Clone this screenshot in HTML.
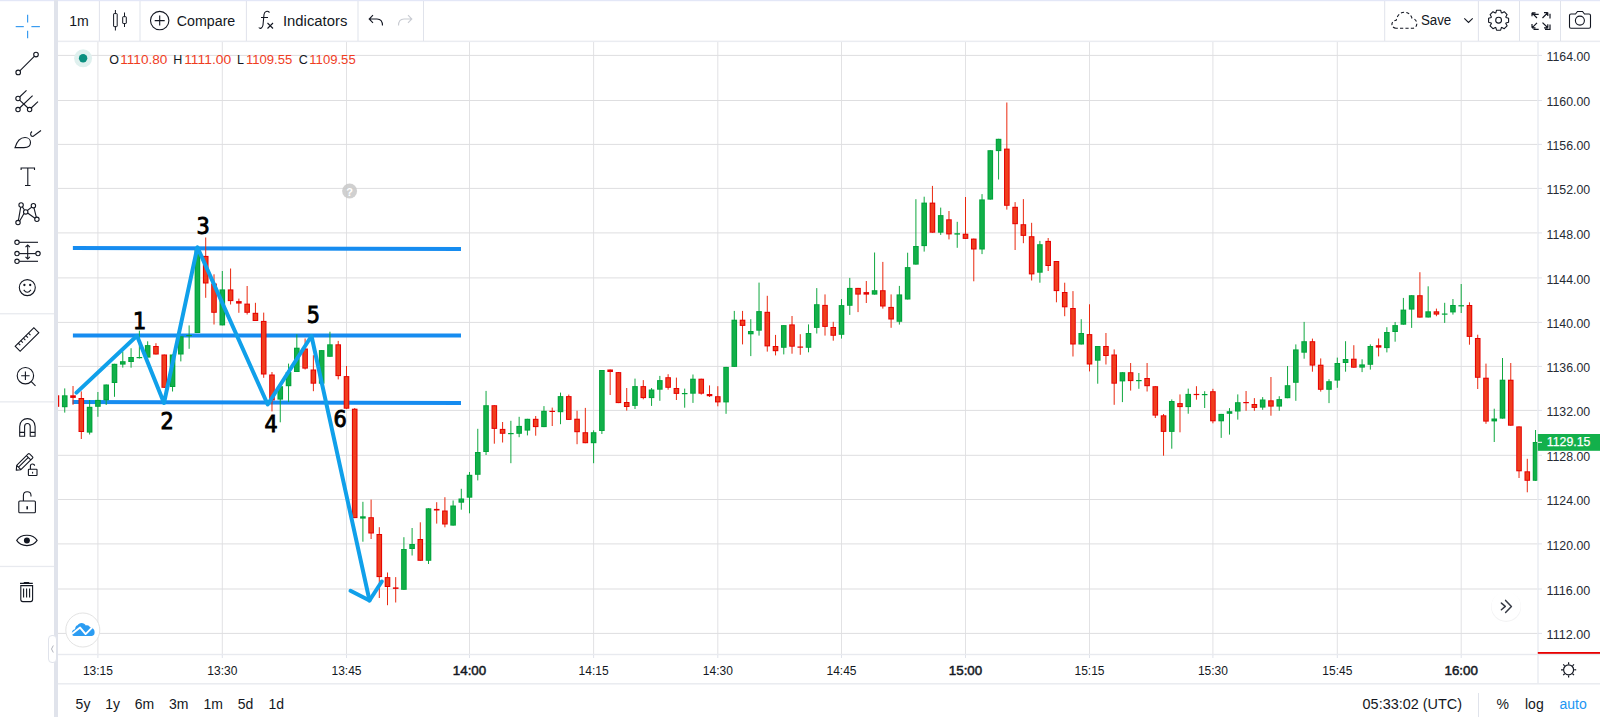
<!DOCTYPE html><html><head><meta charset="utf-8"><title>Chart</title><style>html,body{margin:0;padding:0;background:#fff;overflow:hidden}svg{display:block}text{font-family:"Liberation Sans", Arial, sans-serif}</style></head><body>
<svg width="1600" height="717" viewBox="0 0 1600 717">
<rect x="0" y="0" width="1600" height="717" fill="#fff"/>
<defs><clipPath id="cc"><rect x="58" y="42" width="1479.5" height="612"/></clipPath></defs>
<g clip-path="url(#cc)">
<rect x="97.40" y="42" width="1" height="612" fill="#e2e2e4"/>
<rect x="221.80" y="42" width="1" height="612" fill="#e2e2e4"/>
<rect x="346.00" y="42" width="1" height="612" fill="#e2e2e4"/>
<rect x="469.00" y="42" width="1" height="612" fill="#e2e2e4"/>
<rect x="593.10" y="42" width="1" height="612" fill="#e2e2e4"/>
<rect x="717.30" y="42" width="1" height="612" fill="#e2e2e4"/>
<rect x="841.00" y="42" width="1" height="612" fill="#e2e2e4"/>
<rect x="965.00" y="42" width="1" height="612" fill="#e2e2e4"/>
<rect x="1089.00" y="42" width="1" height="612" fill="#e2e2e4"/>
<rect x="1212.40" y="42" width="1" height="612" fill="#e2e2e4"/>
<rect x="1336.80" y="42" width="1" height="612" fill="#e2e2e4"/>
<rect x="1460.70" y="42" width="1" height="612" fill="#e2e2e4"/>
<rect x="58" y="54.90" width="1480" height="1" fill="#dedee0"/>
<rect x="58" y="100.00" width="1480" height="1" fill="#dedee0"/>
<rect x="58" y="143.90" width="1480" height="1" fill="#dedee0"/>
<rect x="58" y="187.90" width="1480" height="1" fill="#dedee0"/>
<rect x="58" y="232.40" width="1480" height="1" fill="#dedee0"/>
<rect x="58" y="277.40" width="1480" height="1" fill="#dedee0"/>
<rect x="58" y="321.90" width="1480" height="1" fill="#dedee0"/>
<rect x="58" y="365.90" width="1480" height="1" fill="#dedee0"/>
<rect x="58" y="409.90" width="1480" height="1" fill="#dedee0"/>
<rect x="58" y="454.80" width="1480" height="1" fill="#dedee0"/>
<rect x="58" y="499.00" width="1480" height="1" fill="#dedee0"/>
<rect x="58" y="543.40" width="1480" height="1" fill="#dedee0"/>
<rect x="58" y="588.50" width="1480" height="1" fill="#dedee0"/>
<rect x="58" y="632.90" width="1480" height="1" fill="#dedee0"/>
</g>
<line x1="72.9" y1="248" x2="461" y2="248.9" stroke="#168cf0" stroke-width="4"/>
<line x1="72.9" y1="335.4" x2="461" y2="335.4" stroke="#168cf0" stroke-width="4"/>
<line x1="72.5" y1="401.9" x2="461" y2="403" stroke="#168cf0" stroke-width="4"/>
<g clip-path="url(#cc)">
<rect x="55.93" y="393.0" width="1" height="16.0" fill="#ea2a10"/>
<rect x="53.63" y="395.3" width="5.6" height="11.5" fill="#e60000"/>
<rect x="54.63" y="396.3" width="3.6" height="9.5" fill="#ef3e1e"/>
<rect x="64.23" y="388.4" width="1" height="24.2" fill="#10a840"/>
<rect x="61.93" y="395.3" width="5.6" height="11.9" fill="#00a33a"/>
<rect x="62.93" y="396.3" width="3.6" height="9.9" fill="#12b04a"/>
<rect x="72.52" y="386.0" width="1" height="18.8" fill="#ea2a10"/>
<rect x="70.22" y="395.3" width="5.6" height="2.6" fill="#e60000"/>
<rect x="80.81" y="391.4" width="1" height="47.6" fill="#ea2a10"/>
<rect x="78.51" y="398.0" width="5.6" height="34.0" fill="#e60000"/>
<rect x="79.51" y="399.0" width="3.6" height="32.0" fill="#ef3e1e"/>
<rect x="89.11" y="400.0" width="1" height="34.5" fill="#10a840"/>
<rect x="86.81" y="406.8" width="5.6" height="25.8" fill="#00a33a"/>
<rect x="87.81" y="407.8" width="3.6" height="23.8" fill="#12b04a"/>
<rect x="97.40" y="392.0" width="1" height="24.8" fill="#10a840"/>
<rect x="95.10" y="399.9" width="5.6" height="6.9" fill="#00a33a"/>
<rect x="96.10" y="400.9" width="3.6" height="4.9" fill="#12b04a"/>
<rect x="105.69" y="384.5" width="1" height="20.5" fill="#10a840"/>
<rect x="103.39" y="384.5" width="5.6" height="15.8" fill="#00a33a"/>
<rect x="104.39" y="385.5" width="3.6" height="13.8" fill="#12b04a"/>
<rect x="113.99" y="363.8" width="1" height="33.0" fill="#10a840"/>
<rect x="111.69" y="363.8" width="5.6" height="19.2" fill="#00a33a"/>
<rect x="112.69" y="364.8" width="3.6" height="17.2" fill="#12b04a"/>
<rect x="122.28" y="351.5" width="1" height="16.1" fill="#10a840"/>
<rect x="119.98" y="361.2" width="5.6" height="3.4" fill="#00a33a"/>
<rect x="120.98" y="362.2" width="3.6" height="1.4" fill="#12b04a"/>
<rect x="130.57" y="348.2" width="1" height="19.5" fill="#10a840"/>
<rect x="128.27" y="357.0" width="5.6" height="5.0" fill="#00a33a"/>
<rect x="129.27" y="358.0" width="3.6" height="3.0" fill="#12b04a"/>
<rect x="138.87" y="330.7" width="1" height="27.8" fill="#10a840"/>
<rect x="136.57" y="357.0" width="5.6" height="1.2" fill="#00a33a"/>
<rect x="147.16" y="341.3" width="1" height="16.3" fill="#10a840"/>
<rect x="144.86" y="345.1" width="5.6" height="12.5" fill="#00a33a"/>
<rect x="145.86" y="346.1" width="3.6" height="10.5" fill="#12b04a"/>
<rect x="155.45" y="343.2" width="1" height="11.3" fill="#ea2a10"/>
<rect x="153.15" y="346.0" width="5.6" height="8.5" fill="#e60000"/>
<rect x="154.15" y="347.0" width="3.6" height="6.5" fill="#ef3e1e"/>
<rect x="163.75" y="354.5" width="1" height="33.5" fill="#ea2a10"/>
<rect x="161.45" y="354.5" width="5.6" height="33.3" fill="#e60000"/>
<rect x="162.45" y="355.5" width="3.6" height="31.3" fill="#ef3e1e"/>
<rect x="172.04" y="354.5" width="1" height="37.0" fill="#10a840"/>
<rect x="169.74" y="354.5" width="5.6" height="32.5" fill="#00a33a"/>
<rect x="170.74" y="355.5" width="3.6" height="30.5" fill="#12b04a"/>
<rect x="180.33" y="336.3" width="1" height="25.1" fill="#10a840"/>
<rect x="178.03" y="336.3" width="5.6" height="18.2" fill="#00a33a"/>
<rect x="179.03" y="337.3" width="3.6" height="16.2" fill="#12b04a"/>
<rect x="188.63" y="325.4" width="1" height="23.4" fill="#10a840"/>
<rect x="186.33" y="335.0" width="5.6" height="1.2" fill="#00a33a"/>
<rect x="196.92" y="250.0" width="1" height="83.0" fill="#10a840"/>
<rect x="194.62" y="250.0" width="5.6" height="83.0" fill="#00a33a"/>
<rect x="195.62" y="251.0" width="3.6" height="81.0" fill="#12b04a"/>
<rect x="205.21" y="237.5" width="1" height="60.3" fill="#ea2a10"/>
<rect x="202.91" y="255.9" width="5.6" height="27.6" fill="#e60000"/>
<rect x="203.91" y="256.9" width="3.6" height="25.6" fill="#ef3e1e"/>
<rect x="213.51" y="274.3" width="1" height="50.2" fill="#ea2a10"/>
<rect x="211.21" y="283.5" width="5.6" height="29.3" fill="#e60000"/>
<rect x="212.21" y="284.5" width="3.6" height="27.3" fill="#ef3e1e"/>
<rect x="221.80" y="271.0" width="1" height="54.4" fill="#10a840"/>
<rect x="219.50" y="289.4" width="5.6" height="36.0" fill="#00a33a"/>
<rect x="220.50" y="290.4" width="3.6" height="34.0" fill="#12b04a"/>
<rect x="230.08" y="268.5" width="1" height="36.0" fill="#ea2a10"/>
<rect x="227.78" y="289.4" width="5.6" height="11.7" fill="#e60000"/>
<rect x="228.78" y="290.4" width="3.6" height="9.7" fill="#ef3e1e"/>
<rect x="238.36" y="298.6" width="1" height="14.2" fill="#ea2a10"/>
<rect x="236.06" y="301.1" width="5.6" height="2.5" fill="#e60000"/>
<rect x="246.64" y="286.0" width="1" height="28.5" fill="#ea2a10"/>
<rect x="244.34" y="303.6" width="5.6" height="9.2" fill="#e60000"/>
<rect x="245.34" y="304.6" width="3.6" height="7.2" fill="#ef3e1e"/>
<rect x="254.92" y="302.8" width="1" height="18.2" fill="#ea2a10"/>
<rect x="252.62" y="312.8" width="5.6" height="8.2" fill="#e60000"/>
<rect x="253.62" y="313.8" width="3.6" height="6.2" fill="#ef3e1e"/>
<rect x="263.20" y="312.6" width="1" height="65.2" fill="#ea2a10"/>
<rect x="260.90" y="320.9" width="5.6" height="53.6" fill="#e60000"/>
<rect x="261.90" y="321.9" width="3.6" height="51.6" fill="#ef3e1e"/>
<rect x="271.48" y="372.0" width="1" height="39.4" fill="#ea2a10"/>
<rect x="269.18" y="374.5" width="5.6" height="25.9" fill="#e60000"/>
<rect x="270.18" y="375.5" width="3.6" height="23.9" fill="#ef3e1e"/>
<rect x="279.76" y="386.0" width="1" height="36.3" fill="#10a840"/>
<rect x="277.46" y="386.2" width="5.6" height="13.4" fill="#00a33a"/>
<rect x="278.46" y="387.2" width="3.6" height="11.4" fill="#12b04a"/>
<rect x="288.04" y="363.6" width="1" height="38.4" fill="#10a840"/>
<rect x="285.74" y="372.0" width="5.6" height="14.2" fill="#00a33a"/>
<rect x="286.74" y="373.0" width="3.6" height="12.2" fill="#12b04a"/>
<rect x="296.32" y="334.3" width="1" height="37.7" fill="#10a840"/>
<rect x="294.02" y="347.7" width="5.6" height="24.3" fill="#00a33a"/>
<rect x="295.02" y="348.7" width="3.6" height="22.3" fill="#12b04a"/>
<rect x="304.60" y="338.5" width="1" height="31.0" fill="#ea2a10"/>
<rect x="302.30" y="348.5" width="5.6" height="20.1" fill="#e60000"/>
<rect x="303.30" y="349.5" width="3.6" height="18.1" fill="#ef3e1e"/>
<rect x="312.88" y="355.2" width="1" height="36.0" fill="#ea2a10"/>
<rect x="310.58" y="369.5" width="5.6" height="14.2" fill="#e60000"/>
<rect x="311.58" y="370.5" width="3.6" height="12.2" fill="#ef3e1e"/>
<rect x="321.16" y="350.1" width="1" height="33.6" fill="#10a840"/>
<rect x="318.86" y="350.1" width="5.6" height="33.6" fill="#00a33a"/>
<rect x="319.86" y="351.1" width="3.6" height="31.6" fill="#12b04a"/>
<rect x="329.44" y="331.7" width="1" height="25.1" fill="#10a840"/>
<rect x="327.14" y="344.3" width="5.6" height="12.5" fill="#00a33a"/>
<rect x="328.14" y="345.3" width="3.6" height="10.5" fill="#12b04a"/>
<rect x="337.72" y="340.9" width="1" height="38.5" fill="#ea2a10"/>
<rect x="335.42" y="344.3" width="5.6" height="31.8" fill="#e60000"/>
<rect x="336.42" y="345.3" width="3.6" height="29.8" fill="#ef3e1e"/>
<rect x="346.00" y="366.0" width="1" height="42.7" fill="#ea2a10"/>
<rect x="343.70" y="376.1" width="5.6" height="32.6" fill="#e60000"/>
<rect x="344.70" y="377.1" width="3.6" height="30.6" fill="#ef3e1e"/>
<rect x="354.20" y="408.0" width="1" height="110.1" fill="#ea2a10"/>
<rect x="351.90" y="408.7" width="5.6" height="109.4" fill="#e60000"/>
<rect x="352.90" y="409.7" width="3.6" height="107.4" fill="#ef3e1e"/>
<rect x="362.40" y="501.8" width="1" height="39.9" fill="#10a840"/>
<rect x="360.10" y="516.3" width="5.6" height="2.3" fill="#00a33a"/>
<rect x="370.60" y="499.6" width="1" height="39.4" fill="#ea2a10"/>
<rect x="368.30" y="517.2" width="5.6" height="16.3" fill="#e60000"/>
<rect x="369.30" y="518.2" width="3.6" height="14.3" fill="#ef3e1e"/>
<rect x="378.80" y="527.2" width="1" height="70.8" fill="#ea2a10"/>
<rect x="376.50" y="534.0" width="5.6" height="43.1" fill="#e60000"/>
<rect x="377.50" y="535.0" width="3.6" height="41.1" fill="#ef3e1e"/>
<rect x="387.00" y="572.5" width="1" height="32.7" fill="#ea2a10"/>
<rect x="384.70" y="577.1" width="5.6" height="9.9" fill="#e60000"/>
<rect x="385.70" y="578.1" width="3.6" height="7.9" fill="#ef3e1e"/>
<rect x="395.20" y="577.1" width="1" height="25.4" fill="#ea2a10"/>
<rect x="392.90" y="587.4" width="5.6" height="1.5" fill="#e60000"/>
<rect x="403.40" y="537.2" width="1" height="52.6" fill="#10a840"/>
<rect x="401.10" y="549.0" width="5.6" height="40.8" fill="#00a33a"/>
<rect x="402.10" y="550.0" width="3.6" height="38.8" fill="#12b04a"/>
<rect x="411.60" y="528.0" width="1" height="27.5" fill="#10a840"/>
<rect x="409.30" y="544.0" width="5.6" height="5.0" fill="#00a33a"/>
<rect x="410.30" y="545.0" width="3.6" height="3.0" fill="#12b04a"/>
<rect x="419.80" y="522.3" width="1" height="38.5" fill="#ea2a10"/>
<rect x="417.50" y="539.0" width="5.6" height="21.8" fill="#e60000"/>
<rect x="418.50" y="540.0" width="3.6" height="19.8" fill="#ef3e1e"/>
<rect x="428.00" y="508.3" width="1" height="55.7" fill="#10a840"/>
<rect x="425.70" y="508.3" width="5.6" height="52.5" fill="#00a33a"/>
<rect x="426.70" y="509.3" width="3.6" height="50.5" fill="#12b04a"/>
<rect x="436.20" y="502.2" width="1" height="21.4" fill="#ea2a10"/>
<rect x="433.90" y="508.9" width="5.6" height="1.6" fill="#e60000"/>
<rect x="444.40" y="497.2" width="1" height="30.1" fill="#ea2a10"/>
<rect x="442.10" y="510.5" width="5.6" height="14.0" fill="#e60000"/>
<rect x="443.10" y="511.5" width="3.6" height="12.0" fill="#ef3e1e"/>
<rect x="452.60" y="500.5" width="1" height="25.1" fill="#10a840"/>
<rect x="450.30" y="505.5" width="5.6" height="20.1" fill="#00a33a"/>
<rect x="451.30" y="506.5" width="3.6" height="18.1" fill="#12b04a"/>
<rect x="460.80" y="488.8" width="1" height="20.9" fill="#10a840"/>
<rect x="458.50" y="498.5" width="5.6" height="4.2" fill="#00a33a"/>
<rect x="459.50" y="499.5" width="3.6" height="2.2" fill="#12b04a"/>
<rect x="469.00" y="472.0" width="1" height="41.3" fill="#10a840"/>
<rect x="466.70" y="474.8" width="5.6" height="22.9" fill="#00a33a"/>
<rect x="467.70" y="475.8" width="3.6" height="20.9" fill="#12b04a"/>
<rect x="477.27" y="428.8" width="1" height="51.6" fill="#10a840"/>
<rect x="474.97" y="452.0" width="5.6" height="22.8" fill="#00a33a"/>
<rect x="475.97" y="453.0" width="3.6" height="20.8" fill="#12b04a"/>
<rect x="485.55" y="390.9" width="1" height="64.1" fill="#10a840"/>
<rect x="483.25" y="405.2" width="5.6" height="46.8" fill="#00a33a"/>
<rect x="484.25" y="406.2" width="3.6" height="44.8" fill="#12b04a"/>
<rect x="493.82" y="405.2" width="1" height="38.5" fill="#ea2a10"/>
<rect x="491.52" y="405.2" width="5.6" height="23.7" fill="#e60000"/>
<rect x="492.52" y="406.2" width="3.6" height="21.7" fill="#ef3e1e"/>
<rect x="502.09" y="422.0" width="1" height="20.5" fill="#ea2a10"/>
<rect x="499.79" y="428.9" width="5.6" height="4.9" fill="#e60000"/>
<rect x="500.79" y="429.9" width="3.6" height="2.9" fill="#ef3e1e"/>
<rect x="510.37" y="420.8" width="1" height="42.4" fill="#10a840"/>
<rect x="508.07" y="433.0" width="5.6" height="1.2" fill="#00a33a"/>
<rect x="518.64" y="416.8" width="1" height="20.4" fill="#10a840"/>
<rect x="516.34" y="425.9" width="5.6" height="7.9" fill="#00a33a"/>
<rect x="517.34" y="426.9" width="3.6" height="5.9" fill="#12b04a"/>
<rect x="526.91" y="418.8" width="1" height="16.6" fill="#10a840"/>
<rect x="524.61" y="418.8" width="5.6" height="11.8" fill="#00a33a"/>
<rect x="525.61" y="419.8" width="3.6" height="9.8" fill="#12b04a"/>
<rect x="535.19" y="416.0" width="1" height="19.7" fill="#ea2a10"/>
<rect x="532.89" y="418.8" width="5.6" height="8.3" fill="#e60000"/>
<rect x="533.89" y="419.8" width="3.6" height="6.3" fill="#ef3e1e"/>
<rect x="543.46" y="406.1" width="1" height="21.0" fill="#10a840"/>
<rect x="541.16" y="410.8" width="5.6" height="16.3" fill="#00a33a"/>
<rect x="542.16" y="411.8" width="3.6" height="14.3" fill="#12b04a"/>
<rect x="551.73" y="407.6" width="1" height="18.4" fill="#ea2a10"/>
<rect x="549.43" y="410.8" width="5.6" height="1.2" fill="#e60000"/>
<rect x="560.01" y="392.6" width="1" height="31.6" fill="#10a840"/>
<rect x="557.71" y="396.1" width="5.6" height="16.1" fill="#00a33a"/>
<rect x="558.71" y="397.1" width="3.6" height="14.1" fill="#12b04a"/>
<rect x="568.28" y="394.6" width="1" height="25.3" fill="#ea2a10"/>
<rect x="565.98" y="396.1" width="5.6" height="23.8" fill="#e60000"/>
<rect x="566.98" y="397.1" width="3.6" height="21.8" fill="#ef3e1e"/>
<rect x="576.55" y="410.7" width="1" height="33.5" fill="#ea2a10"/>
<rect x="574.25" y="418.7" width="5.6" height="13.5" fill="#e60000"/>
<rect x="575.25" y="419.7" width="3.6" height="11.5" fill="#ef3e1e"/>
<rect x="584.83" y="407.9" width="1" height="35.3" fill="#ea2a10"/>
<rect x="582.53" y="432.2" width="5.6" height="11.0" fill="#e60000"/>
<rect x="583.53" y="433.2" width="3.6" height="9.0" fill="#ef3e1e"/>
<rect x="593.10" y="430.3" width="1" height="32.9" fill="#10a840"/>
<rect x="590.80" y="432.2" width="5.6" height="11.0" fill="#00a33a"/>
<rect x="591.80" y="433.2" width="3.6" height="9.0" fill="#12b04a"/>
<rect x="601.38" y="370.0" width="1" height="64.0" fill="#10a840"/>
<rect x="599.08" y="370.0" width="5.6" height="61.0" fill="#00a33a"/>
<rect x="600.08" y="371.0" width="3.6" height="59.0" fill="#12b04a"/>
<rect x="609.66" y="369.5" width="1" height="25.5" fill="#ea2a10"/>
<rect x="607.36" y="369.5" width="5.6" height="2.5" fill="#e60000"/>
<rect x="617.94" y="372.0" width="1" height="31.1" fill="#ea2a10"/>
<rect x="615.64" y="372.1" width="5.6" height="31.0" fill="#e60000"/>
<rect x="616.64" y="373.1" width="3.6" height="29.0" fill="#ef3e1e"/>
<rect x="626.22" y="388.0" width="1" height="22.6" fill="#ea2a10"/>
<rect x="623.92" y="402.0" width="5.6" height="5.0" fill="#e60000"/>
<rect x="624.92" y="403.0" width="3.6" height="3.0" fill="#ef3e1e"/>
<rect x="634.50" y="378.6" width="1" height="30.4" fill="#10a840"/>
<rect x="632.20" y="386.1" width="5.6" height="19.8" fill="#00a33a"/>
<rect x="633.20" y="387.1" width="3.6" height="17.8" fill="#12b04a"/>
<rect x="642.78" y="380.1" width="1" height="19.2" fill="#ea2a10"/>
<rect x="640.48" y="386.1" width="5.6" height="12.0" fill="#e60000"/>
<rect x="641.48" y="387.1" width="3.6" height="10.0" fill="#ef3e1e"/>
<rect x="651.06" y="388.0" width="1" height="17.9" fill="#10a840"/>
<rect x="648.76" y="389.5" width="5.6" height="8.6" fill="#00a33a"/>
<rect x="649.76" y="390.5" width="3.6" height="6.6" fill="#12b04a"/>
<rect x="659.34" y="375.9" width="1" height="24.9" fill="#10a840"/>
<rect x="657.04" y="380.1" width="5.6" height="9.6" fill="#00a33a"/>
<rect x="658.04" y="381.1" width="3.6" height="7.6" fill="#12b04a"/>
<rect x="667.62" y="374.2" width="1" height="15.5" fill="#ea2a10"/>
<rect x="665.32" y="377.2" width="5.6" height="10.6" fill="#e60000"/>
<rect x="666.32" y="378.2" width="3.6" height="8.6" fill="#ef3e1e"/>
<rect x="675.90" y="377.6" width="1" height="22.4" fill="#ea2a10"/>
<rect x="673.60" y="388.0" width="5.6" height="5.9" fill="#e60000"/>
<rect x="674.60" y="389.0" width="3.6" height="3.9" fill="#ef3e1e"/>
<rect x="684.18" y="388.6" width="1" height="19.1" fill="#10a840"/>
<rect x="681.88" y="393.0" width="5.6" height="1.2" fill="#00a33a"/>
<rect x="692.46" y="374.5" width="1" height="28.4" fill="#10a840"/>
<rect x="690.16" y="378.7" width="5.6" height="15.0" fill="#00a33a"/>
<rect x="691.16" y="379.7" width="3.6" height="13.0" fill="#12b04a"/>
<rect x="700.74" y="378.7" width="1" height="15.9" fill="#ea2a10"/>
<rect x="698.44" y="378.7" width="5.6" height="15.0" fill="#e60000"/>
<rect x="699.44" y="379.7" width="3.6" height="13.0" fill="#ef3e1e"/>
<rect x="709.02" y="385.4" width="1" height="11.6" fill="#ea2a10"/>
<rect x="706.72" y="394.0" width="5.6" height="2.2" fill="#e60000"/>
<rect x="717.30" y="386.2" width="1" height="20.1" fill="#ea2a10"/>
<rect x="715.00" y="396.2" width="5.6" height="6.2" fill="#e60000"/>
<rect x="716.00" y="397.2" width="3.6" height="4.2" fill="#ef3e1e"/>
<rect x="725.55" y="366.9" width="1" height="46.9" fill="#10a840"/>
<rect x="723.25" y="366.9" width="5.6" height="35.5" fill="#00a33a"/>
<rect x="724.25" y="367.9" width="3.6" height="33.5" fill="#12b04a"/>
<rect x="733.79" y="310.9" width="1" height="56.0" fill="#10a840"/>
<rect x="731.49" y="319.7" width="5.6" height="47.2" fill="#00a33a"/>
<rect x="732.49" y="320.7" width="3.6" height="45.2" fill="#12b04a"/>
<rect x="742.04" y="310.9" width="1" height="33.5" fill="#ea2a10"/>
<rect x="739.74" y="319.7" width="5.6" height="6.2" fill="#e60000"/>
<rect x="740.74" y="320.7" width="3.6" height="4.2" fill="#ef3e1e"/>
<rect x="750.29" y="319.2" width="1" height="36.9" fill="#10a840"/>
<rect x="747.99" y="331.0" width="5.6" height="3.3" fill="#00a33a"/>
<rect x="748.99" y="332.0" width="3.6" height="1.3" fill="#12b04a"/>
<rect x="758.53" y="282.6" width="1" height="53.0" fill="#10a840"/>
<rect x="756.23" y="311.1" width="5.6" height="19.6" fill="#00a33a"/>
<rect x="757.23" y="312.1" width="3.6" height="17.6" fill="#12b04a"/>
<rect x="766.78" y="295.8" width="1" height="55.8" fill="#ea2a10"/>
<rect x="764.48" y="311.8" width="5.6" height="34.6" fill="#e60000"/>
<rect x="765.48" y="312.8" width="3.6" height="32.6" fill="#ef3e1e"/>
<rect x="775.03" y="334.9" width="1" height="20.5" fill="#ea2a10"/>
<rect x="772.73" y="346.0" width="5.6" height="5.2" fill="#e60000"/>
<rect x="773.73" y="347.0" width="3.6" height="3.2" fill="#ef3e1e"/>
<rect x="783.27" y="325.1" width="1" height="29.3" fill="#10a840"/>
<rect x="780.97" y="325.1" width="5.6" height="22.7" fill="#00a33a"/>
<rect x="781.97" y="326.1" width="3.6" height="20.7" fill="#12b04a"/>
<rect x="791.52" y="316.0" width="1" height="37.7" fill="#ea2a10"/>
<rect x="789.22" y="324.4" width="5.6" height="22.3" fill="#e60000"/>
<rect x="790.22" y="325.4" width="3.6" height="20.3" fill="#ef3e1e"/>
<rect x="799.77" y="334.2" width="1" height="20.6" fill="#ea2a10"/>
<rect x="797.47" y="346.5" width="5.6" height="1.2" fill="#e60000"/>
<rect x="808.01" y="324.4" width="1" height="27.9" fill="#10a840"/>
<rect x="805.71" y="333.0" width="5.6" height="14.8" fill="#00a33a"/>
<rect x="806.71" y="334.0" width="3.6" height="12.8" fill="#12b04a"/>
<rect x="816.26" y="288.1" width="1" height="45.4" fill="#10a840"/>
<rect x="813.96" y="304.2" width="5.6" height="23.7" fill="#00a33a"/>
<rect x="814.96" y="305.2" width="3.6" height="21.7" fill="#12b04a"/>
<rect x="824.51" y="294.4" width="1" height="41.2" fill="#ea2a10"/>
<rect x="822.21" y="304.9" width="5.6" height="22.0" fill="#e60000"/>
<rect x="823.21" y="305.9" width="3.6" height="20.0" fill="#ef3e1e"/>
<rect x="832.75" y="321.8" width="1" height="18.9" fill="#ea2a10"/>
<rect x="830.45" y="327.0" width="5.6" height="8.8" fill="#e60000"/>
<rect x="831.45" y="328.0" width="3.6" height="6.8" fill="#ef3e1e"/>
<rect x="841.00" y="299.1" width="1" height="39.5" fill="#10a840"/>
<rect x="838.70" y="305.1" width="5.6" height="29.7" fill="#00a33a"/>
<rect x="839.70" y="306.1" width="3.6" height="27.7" fill="#12b04a"/>
<rect x="849.27" y="277.9" width="1" height="37.0" fill="#10a840"/>
<rect x="846.97" y="287.9" width="5.6" height="17.9" fill="#00a33a"/>
<rect x="847.97" y="288.9" width="3.6" height="15.9" fill="#12b04a"/>
<rect x="857.53" y="287.9" width="1" height="24.2" fill="#ea2a10"/>
<rect x="855.23" y="287.9" width="5.6" height="6.7" fill="#e60000"/>
<rect x="856.23" y="288.9" width="3.6" height="4.7" fill="#ef3e1e"/>
<rect x="865.80" y="281.0" width="1" height="22.0" fill="#ea2a10"/>
<rect x="863.50" y="292.1" width="5.6" height="2.5" fill="#e60000"/>
<rect x="874.07" y="252.5" width="1" height="42.1" fill="#10a840"/>
<rect x="871.77" y="290.2" width="5.6" height="4.4" fill="#00a33a"/>
<rect x="872.77" y="291.2" width="3.6" height="2.4" fill="#12b04a"/>
<rect x="882.33" y="261.9" width="1" height="46.7" fill="#ea2a10"/>
<rect x="880.03" y="290.2" width="5.6" height="16.3" fill="#e60000"/>
<rect x="881.03" y="291.2" width="3.6" height="14.3" fill="#ef3e1e"/>
<rect x="890.60" y="294.4" width="1" height="33.4" fill="#ea2a10"/>
<rect x="888.30" y="306.9" width="5.6" height="12.6" fill="#e60000"/>
<rect x="889.30" y="307.9" width="3.6" height="10.6" fill="#ef3e1e"/>
<rect x="898.87" y="285.9" width="1" height="38.7" fill="#10a840"/>
<rect x="896.57" y="294.4" width="5.6" height="27.4" fill="#00a33a"/>
<rect x="897.57" y="295.4" width="3.6" height="25.4" fill="#12b04a"/>
<rect x="907.13" y="252.7" width="1" height="46.8" fill="#10a840"/>
<rect x="904.83" y="267.1" width="5.6" height="32.4" fill="#00a33a"/>
<rect x="905.83" y="268.1" width="3.6" height="30.4" fill="#12b04a"/>
<rect x="915.40" y="199.2" width="1" height="65.4" fill="#10a840"/>
<rect x="913.10" y="246.0" width="5.6" height="18.6" fill="#00a33a"/>
<rect x="914.10" y="247.0" width="3.6" height="16.6" fill="#12b04a"/>
<rect x="923.67" y="196.7" width="1" height="54.9" fill="#10a840"/>
<rect x="921.37" y="202.6" width="5.6" height="43.5" fill="#00a33a"/>
<rect x="922.37" y="203.6" width="3.6" height="41.5" fill="#12b04a"/>
<rect x="931.93" y="185.9" width="1" height="46.8" fill="#ea2a10"/>
<rect x="929.63" y="202.6" width="5.6" height="30.1" fill="#e60000"/>
<rect x="930.63" y="203.6" width="3.6" height="28.1" fill="#ef3e1e"/>
<rect x="940.20" y="207.6" width="1" height="27.3" fill="#10a840"/>
<rect x="937.90" y="215.1" width="5.6" height="17.6" fill="#00a33a"/>
<rect x="938.90" y="216.1" width="3.6" height="15.6" fill="#12b04a"/>
<rect x="948.47" y="211.0" width="1" height="28.4" fill="#ea2a10"/>
<rect x="946.17" y="219.3" width="5.6" height="15.1" fill="#e60000"/>
<rect x="947.17" y="220.3" width="3.6" height="13.1" fill="#ef3e1e"/>
<rect x="956.73" y="221.8" width="1" height="26.0" fill="#10a840"/>
<rect x="954.43" y="233.2" width="5.6" height="1.4" fill="#00a33a"/>
<rect x="965.00" y="197.0" width="1" height="41.9" fill="#ea2a10"/>
<rect x="962.70" y="233.7" width="5.6" height="5.2" fill="#e60000"/>
<rect x="963.70" y="234.7" width="3.6" height="3.2" fill="#ef3e1e"/>
<rect x="973.27" y="238.6" width="1" height="42.7" fill="#ea2a10"/>
<rect x="970.97" y="238.6" width="5.6" height="10.9" fill="#e60000"/>
<rect x="971.97" y="239.6" width="3.6" height="8.9" fill="#ef3e1e"/>
<rect x="981.53" y="194.1" width="1" height="60.0" fill="#10a840"/>
<rect x="979.23" y="199.4" width="5.6" height="50.1" fill="#00a33a"/>
<rect x="980.23" y="200.4" width="3.6" height="48.1" fill="#12b04a"/>
<rect x="989.80" y="150.2" width="1" height="49.4" fill="#10a840"/>
<rect x="987.50" y="150.2" width="5.6" height="49.4" fill="#00a33a"/>
<rect x="988.50" y="151.2" width="3.6" height="47.4" fill="#12b04a"/>
<rect x="998.07" y="138.8" width="1" height="40.7" fill="#10a840"/>
<rect x="995.77" y="138.8" width="5.6" height="12.3" fill="#00a33a"/>
<rect x="996.77" y="139.8" width="3.6" height="10.3" fill="#12b04a"/>
<rect x="1006.33" y="102.5" width="1" height="107.1" fill="#ea2a10"/>
<rect x="1004.03" y="148.6" width="5.6" height="57.2" fill="#e60000"/>
<rect x="1005.03" y="149.6" width="3.6" height="55.2" fill="#ef3e1e"/>
<rect x="1014.60" y="202.1" width="1" height="47.9" fill="#ea2a10"/>
<rect x="1012.30" y="206.8" width="5.6" height="17.4" fill="#e60000"/>
<rect x="1013.30" y="207.8" width="3.6" height="15.4" fill="#ef3e1e"/>
<rect x="1022.87" y="199.1" width="1" height="44.1" fill="#ea2a10"/>
<rect x="1020.57" y="224.2" width="5.6" height="11.7" fill="#e60000"/>
<rect x="1021.57" y="225.2" width="3.6" height="9.7" fill="#ef3e1e"/>
<rect x="1031.13" y="222.8" width="1" height="57.7" fill="#ea2a10"/>
<rect x="1028.83" y="236.2" width="5.6" height="38.2" fill="#e60000"/>
<rect x="1029.83" y="237.2" width="3.6" height="36.2" fill="#ef3e1e"/>
<rect x="1039.40" y="240.9" width="1" height="41.8" fill="#10a840"/>
<rect x="1037.10" y="244.2" width="5.6" height="28.5" fill="#00a33a"/>
<rect x="1038.10" y="245.2" width="3.6" height="26.5" fill="#12b04a"/>
<rect x="1047.67" y="238.0" width="1" height="33.0" fill="#ea2a10"/>
<rect x="1045.37" y="240.9" width="5.6" height="25.1" fill="#e60000"/>
<rect x="1046.37" y="241.9" width="3.6" height="23.1" fill="#ef3e1e"/>
<rect x="1055.93" y="261.0" width="1" height="41.3" fill="#ea2a10"/>
<rect x="1053.63" y="261.0" width="5.6" height="30.1" fill="#e60000"/>
<rect x="1054.63" y="262.0" width="3.6" height="28.1" fill="#ef3e1e"/>
<rect x="1064.20" y="282.7" width="1" height="33.5" fill="#ea2a10"/>
<rect x="1061.90" y="292.0" width="5.6" height="15.3" fill="#e60000"/>
<rect x="1062.90" y="293.0" width="3.6" height="13.3" fill="#ef3e1e"/>
<rect x="1072.47" y="291.1" width="1" height="65.4" fill="#ea2a10"/>
<rect x="1070.17" y="308.0" width="5.6" height="36.5" fill="#e60000"/>
<rect x="1071.17" y="309.0" width="3.6" height="34.5" fill="#ef3e1e"/>
<rect x="1080.73" y="319.2" width="1" height="25.3" fill="#10a840"/>
<rect x="1078.43" y="333.0" width="5.6" height="11.5" fill="#00a33a"/>
<rect x="1079.43" y="334.0" width="3.6" height="9.5" fill="#12b04a"/>
<rect x="1089.00" y="304.3" width="1" height="67.1" fill="#ea2a10"/>
<rect x="1086.70" y="334.1" width="5.6" height="30.4" fill="#e60000"/>
<rect x="1087.70" y="335.1" width="3.6" height="28.4" fill="#ef3e1e"/>
<rect x="1097.23" y="346.0" width="1" height="37.7" fill="#10a840"/>
<rect x="1094.93" y="346.0" width="5.6" height="14.7" fill="#00a33a"/>
<rect x="1095.93" y="347.0" width="3.6" height="12.7" fill="#12b04a"/>
<rect x="1105.45" y="333.0" width="1" height="31.5" fill="#ea2a10"/>
<rect x="1103.15" y="346.0" width="5.6" height="10.0" fill="#e60000"/>
<rect x="1104.15" y="347.0" width="3.6" height="8.0" fill="#ef3e1e"/>
<rect x="1113.68" y="349.4" width="1" height="55.4" fill="#ea2a10"/>
<rect x="1111.38" y="354.5" width="5.6" height="29.2" fill="#e60000"/>
<rect x="1112.38" y="355.5" width="3.6" height="27.2" fill="#ef3e1e"/>
<rect x="1121.91" y="372.2" width="1" height="29.9" fill="#10a840"/>
<rect x="1119.61" y="372.2" width="5.6" height="9.2" fill="#00a33a"/>
<rect x="1120.61" y="373.2" width="3.6" height="7.2" fill="#12b04a"/>
<rect x="1130.13" y="363.0" width="1" height="27.6" fill="#ea2a10"/>
<rect x="1127.83" y="372.2" width="5.6" height="8.9" fill="#e60000"/>
<rect x="1128.83" y="373.2" width="3.6" height="6.9" fill="#ef3e1e"/>
<rect x="1138.36" y="373.0" width="1" height="15.8" fill="#10a840"/>
<rect x="1136.06" y="380.0" width="5.6" height="1.2" fill="#00a33a"/>
<rect x="1146.59" y="363.0" width="1" height="28.5" fill="#ea2a10"/>
<rect x="1144.29" y="378.0" width="5.6" height="8.2" fill="#e60000"/>
<rect x="1145.29" y="379.0" width="3.6" height="6.2" fill="#ef3e1e"/>
<rect x="1154.81" y="386.2" width="1" height="31.8" fill="#ea2a10"/>
<rect x="1152.51" y="386.2" width="5.6" height="29.4" fill="#e60000"/>
<rect x="1153.51" y="387.2" width="3.6" height="27.4" fill="#ef3e1e"/>
<rect x="1163.04" y="414.0" width="1" height="41.7" fill="#ea2a10"/>
<rect x="1160.74" y="415.3" width="5.6" height="16.6" fill="#e60000"/>
<rect x="1161.74" y="416.3" width="3.6" height="14.6" fill="#ef3e1e"/>
<rect x="1171.27" y="399.4" width="1" height="49.3" fill="#10a840"/>
<rect x="1168.97" y="401.0" width="5.6" height="30.9" fill="#00a33a"/>
<rect x="1169.97" y="402.0" width="3.6" height="28.9" fill="#12b04a"/>
<rect x="1179.49" y="394.4" width="1" height="37.9" fill="#ea2a10"/>
<rect x="1177.19" y="403.1" width="5.6" height="4.0" fill="#e60000"/>
<rect x="1178.19" y="404.1" width="3.6" height="2.0" fill="#ef3e1e"/>
<rect x="1187.72" y="388.6" width="1" height="25.1" fill="#10a840"/>
<rect x="1185.42" y="393.9" width="5.6" height="13.2" fill="#00a33a"/>
<rect x="1186.42" y="394.9" width="3.6" height="11.2" fill="#12b04a"/>
<rect x="1195.95" y="386.2" width="1" height="13.5" fill="#ea2a10"/>
<rect x="1193.65" y="393.9" width="5.6" height="1.2" fill="#e60000"/>
<rect x="1204.17" y="391.2" width="1" height="16.8" fill="#10a840"/>
<rect x="1201.87" y="394.0" width="5.6" height="1.2" fill="#00a33a"/>
<rect x="1212.40" y="388.8" width="1" height="34.5" fill="#ea2a10"/>
<rect x="1210.10" y="391.2" width="5.6" height="30.1" fill="#e60000"/>
<rect x="1211.10" y="392.2" width="3.6" height="28.1" fill="#ef3e1e"/>
<rect x="1220.69" y="413.9" width="1" height="24.0" fill="#10a840"/>
<rect x="1218.39" y="413.9" width="5.6" height="7.4" fill="#00a33a"/>
<rect x="1219.39" y="414.9" width="3.6" height="5.4" fill="#12b04a"/>
<rect x="1228.99" y="408.1" width="1" height="26.5" fill="#10a840"/>
<rect x="1226.69" y="411.2" width="5.6" height="2.6" fill="#00a33a"/>
<rect x="1237.28" y="394.4" width="1" height="25.2" fill="#10a840"/>
<rect x="1234.98" y="402.2" width="5.6" height="9.3" fill="#00a33a"/>
<rect x="1235.98" y="403.2" width="3.6" height="7.3" fill="#12b04a"/>
<rect x="1245.57" y="391.0" width="1" height="19.8" fill="#ea2a10"/>
<rect x="1243.27" y="402.0" width="5.6" height="1.2" fill="#e60000"/>
<rect x="1253.87" y="398.1" width="1" height="12.7" fill="#ea2a10"/>
<rect x="1251.57" y="404.0" width="5.6" height="3.9" fill="#e60000"/>
<rect x="1252.57" y="405.0" width="3.6" height="1.9" fill="#ef3e1e"/>
<rect x="1262.16" y="397.1" width="1" height="12.7" fill="#10a840"/>
<rect x="1259.86" y="399.5" width="5.6" height="8.1" fill="#00a33a"/>
<rect x="1260.86" y="400.5" width="3.6" height="6.1" fill="#12b04a"/>
<rect x="1270.45" y="377.0" width="1" height="38.7" fill="#ea2a10"/>
<rect x="1268.15" y="400.3" width="5.6" height="6.3" fill="#e60000"/>
<rect x="1269.15" y="401.3" width="3.6" height="4.3" fill="#ef3e1e"/>
<rect x="1278.75" y="396.2" width="1" height="14.6" fill="#10a840"/>
<rect x="1276.45" y="399.1" width="5.6" height="7.5" fill="#00a33a"/>
<rect x="1277.45" y="400.1" width="3.6" height="5.5" fill="#12b04a"/>
<rect x="1287.04" y="366.0" width="1" height="32.2" fill="#10a840"/>
<rect x="1284.74" y="385.2" width="5.6" height="13.0" fill="#00a33a"/>
<rect x="1285.74" y="386.2" width="3.6" height="11.0" fill="#12b04a"/>
<rect x="1295.33" y="344.4" width="1" height="56.4" fill="#10a840"/>
<rect x="1293.03" y="349.4" width="5.6" height="33.4" fill="#00a33a"/>
<rect x="1294.03" y="350.4" width="3.6" height="31.4" fill="#12b04a"/>
<rect x="1303.63" y="321.9" width="1" height="36.8" fill="#10a840"/>
<rect x="1301.33" y="341.2" width="5.6" height="11.5" fill="#00a33a"/>
<rect x="1302.33" y="342.2" width="3.6" height="9.5" fill="#12b04a"/>
<rect x="1311.92" y="338.6" width="1" height="33.1" fill="#ea2a10"/>
<rect x="1309.62" y="341.2" width="5.6" height="24.4" fill="#e60000"/>
<rect x="1310.62" y="342.2" width="3.6" height="22.4" fill="#ef3e1e"/>
<rect x="1320.21" y="358.4" width="1" height="33.2" fill="#ea2a10"/>
<rect x="1317.91" y="364.7" width="5.6" height="25.1" fill="#e60000"/>
<rect x="1318.91" y="365.7" width="3.6" height="23.1" fill="#ef3e1e"/>
<rect x="1328.51" y="379.2" width="1" height="23.9" fill="#10a840"/>
<rect x="1326.21" y="381.2" width="5.6" height="8.6" fill="#00a33a"/>
<rect x="1327.21" y="382.2" width="3.6" height="6.6" fill="#12b04a"/>
<rect x="1336.80" y="357.6" width="1" height="30.2" fill="#10a840"/>
<rect x="1334.50" y="363.0" width="5.6" height="17.6" fill="#00a33a"/>
<rect x="1335.50" y="364.0" width="3.6" height="15.6" fill="#12b04a"/>
<rect x="1345.06" y="341.2" width="1" height="30.5" fill="#10a840"/>
<rect x="1342.76" y="359.0" width="5.6" height="4.0" fill="#00a33a"/>
<rect x="1343.76" y="360.0" width="3.6" height="2.0" fill="#12b04a"/>
<rect x="1353.32" y="345.2" width="1" height="22.5" fill="#ea2a10"/>
<rect x="1351.02" y="358.7" width="5.6" height="9.0" fill="#e60000"/>
<rect x="1352.02" y="359.7" width="3.6" height="7.0" fill="#ef3e1e"/>
<rect x="1361.58" y="359.3" width="1" height="12.8" fill="#10a840"/>
<rect x="1359.28" y="364.4" width="5.6" height="3.2" fill="#00a33a"/>
<rect x="1360.28" y="365.4" width="3.6" height="1.2" fill="#12b04a"/>
<rect x="1369.84" y="344.4" width="1" height="25.2" fill="#10a840"/>
<rect x="1367.54" y="346.0" width="5.6" height="18.8" fill="#00a33a"/>
<rect x="1368.54" y="347.0" width="3.6" height="16.8" fill="#12b04a"/>
<rect x="1378.10" y="338.5" width="1" height="17.9" fill="#ea2a10"/>
<rect x="1375.80" y="345.2" width="5.6" height="2.4" fill="#e60000"/>
<rect x="1386.36" y="327.2" width="1" height="25.2" fill="#10a840"/>
<rect x="1384.06" y="332.0" width="5.6" height="16.1" fill="#00a33a"/>
<rect x="1385.06" y="333.0" width="3.6" height="14.1" fill="#12b04a"/>
<rect x="1394.62" y="322.0" width="1" height="19.7" fill="#10a840"/>
<rect x="1392.32" y="325.1" width="5.6" height="6.9" fill="#00a33a"/>
<rect x="1393.32" y="326.1" width="3.6" height="4.9" fill="#12b04a"/>
<rect x="1402.88" y="297.9" width="1" height="26.8" fill="#10a840"/>
<rect x="1400.58" y="309.6" width="5.6" height="15.1" fill="#00a33a"/>
<rect x="1401.58" y="310.6" width="3.6" height="13.1" fill="#12b04a"/>
<rect x="1411.14" y="295.2" width="1" height="32.7" fill="#10a840"/>
<rect x="1408.84" y="295.2" width="5.6" height="14.4" fill="#00a33a"/>
<rect x="1409.84" y="296.2" width="3.6" height="12.4" fill="#12b04a"/>
<rect x="1419.40" y="272.2" width="1" height="45.4" fill="#ea2a10"/>
<rect x="1417.10" y="295.2" width="5.6" height="22.4" fill="#e60000"/>
<rect x="1418.10" y="296.2" width="3.6" height="20.4" fill="#ef3e1e"/>
<rect x="1427.66" y="286.3" width="1" height="31.2" fill="#10a840"/>
<rect x="1425.36" y="311.3" width="5.6" height="6.2" fill="#00a33a"/>
<rect x="1426.36" y="312.3" width="3.6" height="4.2" fill="#12b04a"/>
<rect x="1435.92" y="308.6" width="1" height="7.6" fill="#ea2a10"/>
<rect x="1433.62" y="311.3" width="5.6" height="3.3" fill="#e60000"/>
<rect x="1434.62" y="312.3" width="3.6" height="1.3" fill="#ef3e1e"/>
<rect x="1444.18" y="302.8" width="1" height="20.1" fill="#10a840"/>
<rect x="1441.88" y="313.5" width="5.6" height="1.2" fill="#00a33a"/>
<rect x="1452.44" y="299.0" width="1" height="15.6" fill="#10a840"/>
<rect x="1450.14" y="305.0" width="5.6" height="7.4" fill="#00a33a"/>
<rect x="1451.14" y="306.0" width="3.6" height="5.4" fill="#12b04a"/>
<rect x="1460.70" y="284.0" width="1" height="29.0" fill="#10a840"/>
<rect x="1458.40" y="305.2" width="5.6" height="1.2" fill="#00a33a"/>
<rect x="1468.96" y="302.3" width="1" height="42.4" fill="#ea2a10"/>
<rect x="1466.66" y="305.0" width="5.6" height="31.9" fill="#e60000"/>
<rect x="1467.66" y="306.0" width="3.6" height="29.9" fill="#ef3e1e"/>
<rect x="1477.22" y="334.7" width="1" height="54.3" fill="#ea2a10"/>
<rect x="1474.92" y="338.0" width="5.6" height="39.8" fill="#e60000"/>
<rect x="1475.92" y="339.0" width="3.6" height="37.8" fill="#ef3e1e"/>
<rect x="1485.48" y="363.6" width="1" height="60.2" fill="#ea2a10"/>
<rect x="1483.18" y="377.7" width="5.6" height="43.9" fill="#e60000"/>
<rect x="1484.18" y="378.7" width="3.6" height="41.9" fill="#ef3e1e"/>
<rect x="1493.74" y="408.7" width="1" height="33.3" fill="#10a840"/>
<rect x="1491.44" y="418.5" width="5.6" height="2.9" fill="#00a33a"/>
<rect x="1502.00" y="358.0" width="1" height="60.6" fill="#10a840"/>
<rect x="1499.70" y="379.7" width="5.6" height="38.9" fill="#00a33a"/>
<rect x="1500.70" y="380.7" width="3.6" height="36.9" fill="#12b04a"/>
<rect x="1510.26" y="363.0" width="1" height="62.7" fill="#ea2a10"/>
<rect x="1507.96" y="379.7" width="5.6" height="46.0" fill="#e60000"/>
<rect x="1508.96" y="380.7" width="3.6" height="44.0" fill="#ef3e1e"/>
<rect x="1518.52" y="426.4" width="1" height="51.6" fill="#ea2a10"/>
<rect x="1516.22" y="426.4" width="5.6" height="44.9" fill="#e60000"/>
<rect x="1517.22" y="427.4" width="3.6" height="42.9" fill="#ef3e1e"/>
<rect x="1526.78" y="458.8" width="1" height="33.5" fill="#ea2a10"/>
<rect x="1524.48" y="471.3" width="5.6" height="9.5" fill="#e60000"/>
<rect x="1525.48" y="472.3" width="3.6" height="7.5" fill="#ef3e1e"/>
<rect x="1535.04" y="430.0" width="1" height="50.8" fill="#10a840"/>
<rect x="1532.74" y="442.0" width="5.6" height="38.8" fill="#00a33a"/>
<rect x="1533.74" y="443.0" width="3.6" height="36.8" fill="#12b04a"/>
</g>
<polyline points="76.5,392.6 137,335.8 164,403 197.4,247.2 267.7,404.5 311.5,336 369.5,600.5" fill="none" stroke="#10a0ea" stroke-width="4" stroke-linejoin="round" stroke-linecap="round"/>
<polyline points="350.5,590.8 369.5,600.5 381.8,581.5" fill="none" stroke="#10a0ea" stroke-width="4" stroke-linejoin="round" stroke-linecap="round"/>
<text x="139.6" y="329" font-size="23.1" text-anchor="middle" fill="#000" stroke="#000" stroke-width="0.9" style="font-family:'DejaVu Sans Condensed','DejaVu Sans',sans-serif">1</text>
<text x="167" y="429" font-size="23.1" text-anchor="middle" fill="#000" stroke="#000" stroke-width="0.9" style="font-family:'DejaVu Sans Condensed','DejaVu Sans',sans-serif">2</text>
<text x="203" y="234" font-size="23.1" text-anchor="middle" fill="#000" stroke="#000" stroke-width="0.9" style="font-family:'DejaVu Sans Condensed','DejaVu Sans',sans-serif">3</text>
<text x="271" y="432.3" font-size="23.1" text-anchor="middle" fill="#000" stroke="#000" stroke-width="0.9" style="font-family:'DejaVu Sans Condensed','DejaVu Sans',sans-serif">4</text>
<text x="313.3" y="322.8" font-size="23.1" text-anchor="middle" fill="#000" stroke="#000" stroke-width="0.9" style="font-family:'DejaVu Sans Condensed','DejaVu Sans',sans-serif">5</text>
<text x="340" y="427" font-size="23.1" text-anchor="middle" fill="#000" stroke="#000" stroke-width="0.9" style="font-family:'DejaVu Sans Condensed','DejaVu Sans',sans-serif">6</text>
<circle cx="83.1" cy="58.3" r="9" fill="#dff0ee"/>
<circle cx="83.1" cy="58.3" r="4.2" fill="#0a8f7f"/>
<text x="109.2" y="63.9" font-size="12.5" fill="#131722">O</text>
<text x="120.3" y="63.9" font-size="12.5" fill="#ef3d1f" textLength="47" lengthAdjust="spacingAndGlyphs">1110.80</text>
<text x="173.2" y="63.9" font-size="12.5" fill="#131722">H</text>
<text x="184.2" y="63.9" font-size="12.5" fill="#ef3d1f" textLength="47" lengthAdjust="spacingAndGlyphs">1111.00</text>
<text x="236.9" y="63.9" font-size="12.5" fill="#131722">L</text>
<text x="245.9" y="63.9" font-size="12.5" fill="#ef3d1f" textLength="46.4" lengthAdjust="spacingAndGlyphs">1109.55</text>
<text x="298.8" y="63.9" font-size="12.5" fill="#131722">C</text>
<text x="309.3" y="63.9" font-size="12.5" fill="#ef3d1f" textLength="46.4" lengthAdjust="spacingAndGlyphs">1109.55</text>
<circle cx="349.6" cy="191" r="7.5" fill="#c8c8c8" fill-opacity="0.85"/>
<text x="349.6" y="195.5" font-size="11" font-weight="bold" text-anchor="middle" fill="#fff">?</text>
<circle cx="82.8" cy="630" r="17" fill="#fff" stroke="#e3e3e3" stroke-width="1"/>
<path d="M74,636 C71.2,636 70.8,630 75,629.3 C75.3,626.5 76.5,625.6 77.6,625.3 C78.5,622.3 84.5,621.8 85.8,625.6 C87,624.6 89.5,625.3 89.9,627.3 C93.3,627.6 95,630.2 94.6,633 C94.3,635.3 93,636 91.6,636 Z" fill="#2b9cf2"/>
<polyline points="71.8,634 80.1,627.6 85.6,634.1 92.2,627.3" fill="none" stroke="#fff" stroke-width="1.9" stroke-linejoin="round"/>
<circle cx="1506.1" cy="606.9" r="15" fill="#f3f3f4"/>
<circle cx="1506.1" cy="606.1" r="14.6" fill="#fff"/>
<polyline points="1501.4,603.1 1505.3,606.4 1501.4,609.7" fill="none" stroke="#363a45" stroke-width="1.5" stroke-linecap="round" stroke-linejoin="round"/>
<polyline points="1505.6,600.4 1511.4,606.4 1505.6,612.4" fill="none" stroke="#363a45" stroke-width="1.5" stroke-linecap="round" stroke-linejoin="round"/>
<rect x="1537.5" y="42" width="1" height="642" fill="#e0e3eb"/>
<rect x="1538" y="54.90" width="4" height="1" fill="#e0e3eb"/>
<text x="1546.6" y="61.30" font-size="12" fill="#262a33" textLength="43.6" lengthAdjust="spacingAndGlyphs">1164.00</text>
<rect x="1538" y="100.00" width="4" height="1" fill="#e0e3eb"/>
<text x="1546.6" y="106.40" font-size="12" fill="#262a33" textLength="43.6" lengthAdjust="spacingAndGlyphs">1160.00</text>
<rect x="1538" y="143.90" width="4" height="1" fill="#e0e3eb"/>
<text x="1546.6" y="150.30" font-size="12" fill="#262a33" textLength="43.6" lengthAdjust="spacingAndGlyphs">1156.00</text>
<rect x="1538" y="187.90" width="4" height="1" fill="#e0e3eb"/>
<text x="1546.6" y="194.30" font-size="12" fill="#262a33" textLength="43.6" lengthAdjust="spacingAndGlyphs">1152.00</text>
<rect x="1538" y="232.40" width="4" height="1" fill="#e0e3eb"/>
<text x="1546.6" y="238.80" font-size="12" fill="#262a33" textLength="43.6" lengthAdjust="spacingAndGlyphs">1148.00</text>
<rect x="1538" y="277.40" width="4" height="1" fill="#e0e3eb"/>
<text x="1546.6" y="283.80" font-size="12" fill="#262a33" textLength="43.6" lengthAdjust="spacingAndGlyphs">1144.00</text>
<rect x="1538" y="321.90" width="4" height="1" fill="#e0e3eb"/>
<text x="1546.6" y="328.30" font-size="12" fill="#262a33" textLength="43.6" lengthAdjust="spacingAndGlyphs">1140.00</text>
<rect x="1538" y="365.90" width="4" height="1" fill="#e0e3eb"/>
<text x="1546.6" y="372.30" font-size="12" fill="#262a33" textLength="43.6" lengthAdjust="spacingAndGlyphs">1136.00</text>
<rect x="1538" y="409.90" width="4" height="1" fill="#e0e3eb"/>
<text x="1546.6" y="416.30" font-size="12" fill="#262a33" textLength="43.6" lengthAdjust="spacingAndGlyphs">1132.00</text>
<rect x="1538" y="454.80" width="4" height="1" fill="#e0e3eb"/>
<text x="1546.6" y="461.20" font-size="12" fill="#262a33" textLength="43.6" lengthAdjust="spacingAndGlyphs">1128.00</text>
<rect x="1538" y="499.00" width="4" height="1" fill="#e0e3eb"/>
<text x="1546.6" y="505.40" font-size="12" fill="#262a33" textLength="43.6" lengthAdjust="spacingAndGlyphs">1124.00</text>
<rect x="1538" y="543.40" width="4" height="1" fill="#e0e3eb"/>
<text x="1546.6" y="549.80" font-size="12" fill="#262a33" textLength="43.6" lengthAdjust="spacingAndGlyphs">1120.00</text>
<rect x="1538" y="588.50" width="4" height="1" fill="#e0e3eb"/>
<text x="1546.6" y="594.90" font-size="12" fill="#262a33" textLength="43.6" lengthAdjust="spacingAndGlyphs">1116.00</text>
<rect x="1538" y="632.90" width="4" height="1" fill="#e0e3eb"/>
<text x="1546.6" y="639.30" font-size="12" fill="#262a33" textLength="43.6" lengthAdjust="spacingAndGlyphs">1112.00</text>
<rect x="1537.8" y="434" width="62.2" height="16.8" fill="#13b04b"/>
<rect x="1538" y="441.8" width="4" height="1" fill="#fff"/>
<text x="1546.8" y="445.9" font-size="12" fill="#fff" stroke="#fff" stroke-width="0.25" textLength="43.6" lengthAdjust="spacingAndGlyphs">1129.15</text>
<rect x="1537.8" y="652" width="62.2" height="2.3" fill="#e80000"/>
<rect x="58" y="653.8" width="1542" height="1.4" fill="#e8eaef"/>
<rect x="97.40" y="655" width="1" height="3" fill="#e0e3eb"/>
<text x="97.90" y="675" font-size="12" text-anchor="middle" fill="#131722">13:15</text>
<rect x="221.80" y="655" width="1" height="3" fill="#e0e3eb"/>
<text x="222.30" y="675" font-size="12" text-anchor="middle" fill="#131722">13:30</text>
<rect x="346.00" y="655" width="1" height="3" fill="#e0e3eb"/>
<text x="346.50" y="675" font-size="12" text-anchor="middle" fill="#131722">13:45</text>
<rect x="469.00" y="655" width="1" height="3" fill="#e0e3eb"/>
<text x="469.50" y="675" font-size="12" stroke="#131722" stroke-width="0.45" textLength="33.4" lengthAdjust="spacingAndGlyphs" text-anchor="middle" fill="#131722">14:00</text>
<rect x="593.10" y="655" width="1" height="3" fill="#e0e3eb"/>
<text x="593.60" y="675" font-size="12" text-anchor="middle" fill="#131722">14:15</text>
<rect x="717.30" y="655" width="1" height="3" fill="#e0e3eb"/>
<text x="717.80" y="675" font-size="12" text-anchor="middle" fill="#131722">14:30</text>
<rect x="841.00" y="655" width="1" height="3" fill="#e0e3eb"/>
<text x="841.50" y="675" font-size="12" text-anchor="middle" fill="#131722">14:45</text>
<rect x="965.00" y="655" width="1" height="3" fill="#e0e3eb"/>
<text x="965.50" y="675" font-size="12" stroke="#131722" stroke-width="0.45" textLength="33.4" lengthAdjust="spacingAndGlyphs" text-anchor="middle" fill="#131722">15:00</text>
<rect x="1089.00" y="655" width="1" height="3" fill="#e0e3eb"/>
<text x="1089.50" y="675" font-size="12" text-anchor="middle" fill="#131722">15:15</text>
<rect x="1212.40" y="655" width="1" height="3" fill="#e0e3eb"/>
<text x="1212.90" y="675" font-size="12" text-anchor="middle" fill="#131722">15:30</text>
<rect x="1336.80" y="655" width="1" height="3" fill="#e0e3eb"/>
<text x="1337.30" y="675" font-size="12" text-anchor="middle" fill="#131722">15:45</text>
<rect x="1460.70" y="655" width="1" height="3" fill="#e0e3eb"/>
<text x="1461.20" y="675" font-size="12" stroke="#131722" stroke-width="0.45" textLength="33.4" lengthAdjust="spacingAndGlyphs" text-anchor="middle" fill="#131722">16:00</text>
<circle cx="1568.6" cy="669.8" r="5" fill="none" stroke="#131722" stroke-width="1.2"/>
<line x1="1574.20" y1="669.80" x2="1576.20" y2="669.80" stroke="#131722" stroke-width="1.2"/>
<line x1="1572.56" y1="673.76" x2="1573.97" y2="675.17" stroke="#131722" stroke-width="1.2"/>
<line x1="1568.60" y1="675.40" x2="1568.60" y2="677.40" stroke="#131722" stroke-width="1.2"/>
<line x1="1564.64" y1="673.76" x2="1563.23" y2="675.17" stroke="#131722" stroke-width="1.2"/>
<line x1="1563.00" y1="669.80" x2="1561.00" y2="669.80" stroke="#131722" stroke-width="1.2"/>
<line x1="1564.64" y1="665.84" x2="1563.23" y2="664.43" stroke="#131722" stroke-width="1.2"/>
<line x1="1568.60" y1="664.20" x2="1568.60" y2="662.20" stroke="#131722" stroke-width="1.2"/>
<line x1="1572.56" y1="665.84" x2="1573.97" y2="664.43" stroke="#131722" stroke-width="1.2"/>
<rect x="58" y="683.1" width="1542" height="1.4" fill="#e8eaef"/>
<text x="75.6" y="709" font-size="14" fill="#131722">5y</text>
<text x="105.2" y="709" font-size="14" fill="#131722">1y</text>
<text x="134.7" y="709" font-size="14" fill="#131722">6m</text>
<text x="169" y="709" font-size="14" fill="#131722">3m</text>
<text x="203.5" y="709" font-size="14" fill="#131722">1m</text>
<text x="237.8" y="709" font-size="14" fill="#131722">5d</text>
<text x="268.4" y="709" font-size="14" fill="#131722">1d</text>
<text x="1362.6" y="709" font-size="14" fill="#131722" textLength="99.4" lengthAdjust="spacingAndGlyphs">05:33:02 (UTC)</text>
<rect x="1478" y="693" width="1" height="24" fill="#e0e3eb"/>
<text x="1496.5" y="709" font-size="14" fill="#131722">%</text>
<text x="1525" y="709" font-size="14" fill="#131722">log</text>
<text x="1559.5" y="709" font-size="14" fill="#2196f3">auto</text>
<rect x="0" y="0" width="1600" height="1.2" fill="#e3e7f7"/>
<rect x="58" y="40.6" width="1542" height="1.5" fill="#eaecf1"/>
<rect x="98.9" y="1" width="1" height="40" fill="#e0e3eb"/>
<rect x="139.5" y="1" width="1" height="40" fill="#e0e3eb"/>
<rect x="245.9" y="1" width="1" height="40" fill="#e0e3eb"/>
<rect x="357.5" y="1" width="1" height="40" fill="#e0e3eb"/>
<rect x="423.0" y="1" width="1" height="40" fill="#e0e3eb"/>
<rect x="1384.2" y="1" width="1" height="40" fill="#e0e3eb"/>
<rect x="1477.9" y="1" width="1" height="40" fill="#e0e3eb"/>
<rect x="1519.0" y="1" width="1" height="40" fill="#e0e3eb"/>
<rect x="1560.0" y="1" width="1" height="40" fill="#e0e3eb"/>
<text x="69.2" y="25.9" font-size="14" fill="#131722" textLength="19.6" lengthAdjust="spacingAndGlyphs">1m</text>
<g fill="none" stroke="#131722" stroke-width="1">
<rect x="113.6" y="13.6" width="3.6" height="13" rx="0.5"/><line x1="115.4" y1="10" x2="115.4" y2="13.6"/><line x1="115.4" y1="26.6" x2="115.4" y2="30.5"/>
<rect x="122.7" y="16.7" width="3.6" height="6.8" rx="0.5"/><line x1="124.5" y1="12.5" x2="124.5" y2="16.7"/><line x1="124.5" y1="23.5" x2="124.5" y2="27"/>
</g>
<circle cx="159.7" cy="20.6" r="9.2" fill="none" stroke="#131722" stroke-width="1.1"/>
<path d="M159.7,15.6 V25.6 M154.7,20.6 H164.7" stroke="#131722" stroke-width="1.1"/>
<text x="176.8" y="25.6" font-size="14" fill="#131722" textLength="58.5" lengthAdjust="spacingAndGlyphs">Compare</text>
<path d="M269.5,12.5 C267.5,10.5 264.5,11 264,14.5 L263,25 C262.5,28.5 260,29 258.8,27.5 M261,17.5 H268" fill="none" stroke="#131722" stroke-width="1.1"/>
<path d="M267.5,23 L273,28.5 M273,23 L267.5,28.5" stroke="#131722" stroke-width="1.1"/>
<text x="283" y="25.6" font-size="14" fill="#131722" textLength="64.3" lengthAdjust="spacingAndGlyphs">Indicators</text>
<path d="M369.5,19 H377 C380.5,19 382.5,21.5 382.5,25.6 M373,15.2 L369.2,19 L373,22.8" fill="none" stroke="#131722" stroke-width="1.1"/>
<path d="M411.5,19 H404 C400.5,19 398.5,21.5 398.5,25.6 M408,15.2 L411.8,19 L408,22.8" fill="none" stroke="#c8cbd2" stroke-width="1.1"/>
<path d="M1396,28.2 C1392.5,28.2 1390.5,24.2 1393,21.6 C1394,20.6 1395,20.3 1396.2,20.3 C1397,15.6 1400.2,12.3 1404.4,12.3 C1408.4,12.3 1411,15 1412,18.2 C1415.4,18.8 1417,21.2 1416.8,24 C1416.6,26.5 1415,28.2 1413,28.2 Z" fill="none" stroke="#131722" stroke-width="1.1" stroke-dasharray="3.2,2.2"/>
<text x="1420.9" y="25.2" font-size="14" fill="#131722" textLength="30.4" lengthAdjust="spacingAndGlyphs">Save</text>
<polyline points="1464.3,18.3 1468.5,22.5 1472.7,18.3" fill="none" stroke="#131722" stroke-width="1.1"/>
<polygon points="1495.82,12.81 1496.57,10.20 1500.63,10.20 1501.38,12.81 1501.86,13.00 1504.24,11.70 1507.10,14.56 1505.80,16.94 1505.99,17.42 1508.60,18.17 1508.60,22.23 1505.99,22.98 1505.80,23.46 1507.10,25.84 1504.24,28.70 1501.86,27.40 1501.38,27.59 1500.63,30.20 1496.57,30.20 1495.82,27.59 1495.34,27.40 1492.96,28.70 1490.10,25.84 1491.40,23.46 1491.21,22.98 1488.60,22.23 1488.60,18.17 1491.21,17.42 1491.40,16.94 1490.10,14.56 1492.96,11.70 1495.34,13.00" fill="none" stroke="#131722" stroke-width="1.1" stroke-linejoin="round"/>
<circle cx="1498.6" cy="20.2" r="2.9" fill="none" stroke="#131722" stroke-width="1.1"/>
<g fill="none" stroke="#131722" stroke-width="1.2">
<path d="M1532,12.8 L1537,18 M1532,12.8 H1535.5 M1532,12.8 V16.2 M1533.5,14.4 H1538.7"/>
<path d="M1547.8,12.6 L1542.5,18 M1547.8,12.6 H1544 M1547.8,12.6 V16 M1550,13.8 V18.6"/>
<path d="M1532,27.8 L1537,22.8 M1532,27.8 V24 M1532,27.8 H1535.5 M1533.5,29.4 H1538.7"/>
<path d="M1547.8,27.8 L1542.5,22.6 M1547.8,27.8 H1544 M1547.8,27.8 V24.3 M1550,24.6 V29.4 H1545"/>
</g>
<path d="M1571,14 H1575.5 L1577.5,11.5 H1582.5 L1584.5,14 H1589 Q1590.5,14 1590.5,15.5 V26.8 Q1590.5,28.3 1589,28.3 H1571 Q1569.5,28.3 1569.5,26.8 V15.5 Q1569.5,14 1571,14 Z" fill="none" stroke="#131722" stroke-width="1.1"/>
<circle cx="1579.9" cy="20.6" r="4.5" fill="none" stroke="#131722" stroke-width="1.1"/>
<rect x="54" y="0" width="4" height="717" fill="#e0e3eb"/>
<rect x="0" y="313.09999999999997" width="54" height="1.3" fill="#e8eaef"/>
<rect x="0" y="401.2" width="54" height="1.3" fill="#e8eaef"/>
<rect x="0" y="565.8" width="54" height="1.3" fill="#e8eaef"/>
<g stroke="#3a9cf0" stroke-width="1.2">
<line x1="15.7" y1="26.6" x2="23.8" y2="26.6"/><line x1="31.4" y1="26.6" x2="39.9" y2="26.6"/>
<line x1="27.6" y1="14.8" x2="27.6" y2="22.6"/><line x1="27.6" y1="30.7" x2="27.6" y2="38.3"/>
</g>
<g fill="none" stroke="#131722" stroke-width="1.1"><line x1="19.8" y1="70.8" x2="34.3" y2="56.3"/><circle cx="18.2" cy="72.4" r="2.3"/><circle cx="36" cy="54.6" r="2.3"/></g>
<g fill="none" stroke="#131722" stroke-width="1.1"><circle cx="18" cy="98.5" r="2.2"/><circle cx="18" cy="109.6" r="2.2"/><circle cx="29.6" cy="109.6" r="2.2"/>
<line x1="19.6" y1="97" x2="26.5" y2="90.4"/><line x1="19.6" y1="100.1" x2="28" y2="108"/><line x1="19.6" y1="108" x2="32.6" y2="95.7"/><line x1="31.2" y1="108" x2="38" y2="101.6"/></g>
<g fill="none" stroke="#131722" stroke-width="1.1"><path d="M15,147.6 C17,141 21,137.5 25,137.5 C28.5,137.5 30.5,140 30.5,142.5 C30.5,146 27.5,147.6 24,147.6 Z"/><path d="M32,131.5 C30,133 30,136.5 33,136.5 L41,130.5"/></g>
<g fill="none" stroke="#131722" stroke-width="1.1"><path d="M21.1,170 V168 H34.5 V170 M27.8,168 V185.5 M25,185.5 H30.5"/></g>
<g fill="none" stroke="#131722" stroke-width="1.1"><circle cx="21.1" cy="205" r="2.2"/><circle cx="33.4" cy="205.7" r="2.2"/><circle cx="25.7" cy="211.9" r="2.2"/><circle cx="18" cy="222.6" r="2.2"/><circle cx="36.9" cy="219.3" r="2.2"/>
<line x1="18.4" y1="220.4" x2="20.7" y2="207.2"/><line x1="22.4" y1="206.9" x2="24.4" y2="210"/><line x1="27.4" y1="210.5" x2="31.7" y2="207.1"/><line x1="34" y1="207.8" x2="36.3" y2="217.1"/><line x1="35" y1="218.2" x2="27.6" y2="213"/><line x1="24" y1="213.4" x2="19.7" y2="221.1"/></g>
<g fill="none" stroke="#131722" stroke-width="1.1"><circle cx="17" cy="242.3" r="2.2"/><circle cx="17" cy="253.6" r="2.2"/><circle cx="17" cy="261.3" r="2.2"/><circle cx="38" cy="253.6" r="2.2"/>
<line x1="19.2" y1="242.3" x2="38" y2="242.3"/><line x1="19.2" y1="253.6" x2="35.8" y2="253.6"/><line x1="19.2" y1="261.3" x2="38" y2="261.3"/>
<line x1="27.7" y1="245" x2="27.7" y2="259"/><polyline points="25.5,247.2 27.7,245 29.9,247.2"/><polyline points="25.5,256.8 27.7,259 29.9,256.8"/></g>
<g fill="none" stroke="#131722" stroke-width="1.1"><circle cx="27.3" cy="287.6" r="8"/><path d="M23.7,289.8 Q27.3,294.6 30.9,289.8"/></g>
<circle cx="24.4" cy="285" r="1.15" fill="#131722"/><circle cx="30.2" cy="285" r="1.15" fill="#131722"/>
<g fill="none" stroke="#131722" stroke-width="1.1" transform="rotate(-45 27 339.5)"><rect x="13.8" y="336" width="26.4" height="7"/><path d="M18.2,336 v2.8 M21.8,336 v2.8 M25.4,336 v2.8 M29,336 v2.8 M32.6,336 v2.8"/></g>
<g fill="none" stroke="#131722" stroke-width="1.1"><circle cx="25.4" cy="375.7" r="8.2"/><line x1="31.3" y1="381.6" x2="35.5" y2="385.8"/><path d="M25.4,371.5 V379.9 M21.2,375.7 H29.6"/></g>
<g fill="none" stroke="#131722" stroke-width="1.1"><path d="M19.7,436.3 V426.5 C19.7,416 35.1,416 35.1,426.5 V436.3 H30.2 V426.5 C30.2,422.5 24.6,422.5 24.6,426.5 V436.3 Z"/><path d="M19.7,432.4 H24.6 M30.2,432.4 H35.1"/></g>
<g fill="none" stroke="#131722" stroke-width="1.1" stroke-linejoin="round"><path d="M16.3,470.1 L16.7,465.4 L28.2,453.9 Q28.9,453.3 29.6,453.9 L32.6,456.8 Q33.2,457.5 32.6,458.1 L20.9,469.7 Z M18.8,466.8 L28.6,457.1 M26.4,455.7 L31,460.1 M16.7,465.4 L20.9,469.7"/>
<rect x="28.4" y="469.2" width="8.6" height="6.3" rx="0.6"/><path d="M30.4,469.2 V466 C30.4,463.4 34.6,463.4 34.6,465.8"/></g>
<rect x="32.1" y="471.8" width="1" height="1.8" fill="#131722"/>
<g fill="none" stroke="#131722" stroke-width="1.1"><rect x="18.8" y="501" width="16.6" height="11.8" rx="1"/><path d="M23.4,501 V495.5 C23.4,490.5 31,490.5 31,495.5 V496.5"/></g>
<rect x="26.4" y="506.2" width="1.6" height="3.2" fill="#131722"/>
<path d="M16.7,540.4 C21,533.5 32.8,533.5 37.1,540.4 C32.8,547.3 21,547.3 16.7,540.4 Z" fill="none" stroke="#131722" stroke-width="1.1"/>
<circle cx="26.9" cy="540.4" r="3" fill="#131722"/>
<g fill="none" stroke="#131722" stroke-width="1.1"><path d="M20,583.4 H32.8 M20.8,585.6 V599.6 Q20.8,601.6 22.8,601.6 H30.6 Q32.6,601.6 32.6,599.6 V585.6 Z M23.6,588.4 V597.5 M26.6,588.4 V597.5 M29.6,588.4 V597.5"/></g>
<path d="M23,583.4 L24.2,581.9 H28.8 L30,583.4 Z" fill="#131722"/>
<rect x="48.5" y="635.5" width="8" height="27" rx="3.5" fill="#fff" stroke="#e0e3eb" stroke-width="1"/>
<polyline points="53.3,645.5 51.5,649 53.3,652.5" fill="none" stroke="#b2b5be" stroke-width="1"/>
</svg></body></html>
